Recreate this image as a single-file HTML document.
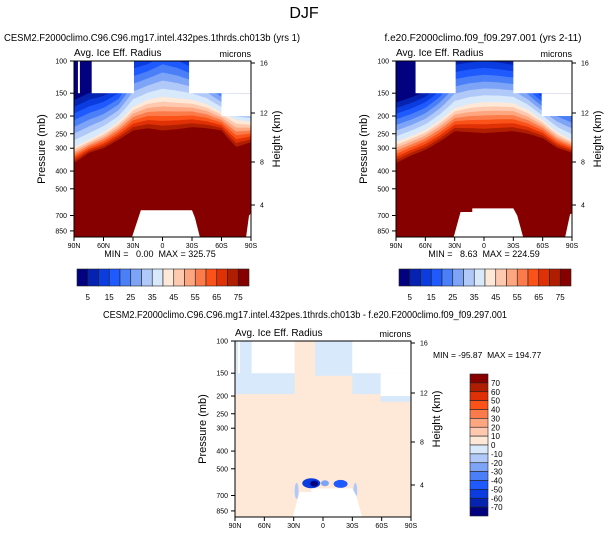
<!DOCTYPE html>
<html><head><meta charset="utf-8"><style>
body{margin:0;background:#fff;}
svg{display:block;font-family:"Liberation Sans",sans-serif;}
</style></head><body>
<svg id="chart" width="609" height="538" viewBox="0 0 609 538" xmlns="http://www.w3.org/2000/svg">
<text x="304" y="18" font-size="16" text-anchor="middle">DJF</text>
<text x="152" y="41" font-size="10" text-anchor="middle" textLength="296" lengthAdjust="spacingAndGlyphs">CESM2.F2000climo.C96.C96.mg17.intel.432pes.1thrds.ch013b (yrs 1)</text>
<text x="483" y="41" font-size="10" text-anchor="middle" textLength="197" lengthAdjust="spacingAndGlyphs">f.e20.F2000climo.f09_f09.297.001 (yrs 2-11)</text>
<text x="305" y="318" font-size="10" text-anchor="middle" textLength="404" lengthAdjust="spacingAndGlyphs">CESM2.F2000climo.C96.C96.mg17.intel.432pes.1thrds.ch013b - f.e20.F2000climo.f09_f09.297.001</text>
<g id="p1"></g>
<g id="p2"></g>
<g id="p3"></g>
<g id="cb"></g>
</svg>
<script>
// ---- data ----
const lats = [90,75,60,45,30,15,0,-15,-30,-45,-60,-75,-90];
// pressure (mb) where field crosses 75, 40 and 10 microns
const p75a = [361,318,300,270,240,233,240,236,230,233,240,295,278];
const p40a = [295,270,245,215,178,163,157,160,163,172,190,210,215];
const p10a = [178,163,155,140,100,95,85,90,100,110,130,160,165];
const p75b = [361,330,306,275,242,245,248,245,242,250,264,299,318];
const p40b = [277,258,238,210,181,172,168,168,170,185,210,245,270];
const p10b = [181,170,157,135,105,102,100,102,105,125,150,165,175];
const levels = [5,10,15,20,25,30,35,40,45,50,55,60,65,70,75];
const diffLevels = [-70,-60,-50,-40,-30,-20,-10,0,10,20,30,40,50,60,70];
const pTicks = [100,150,200,250,300,400,500,700,850];
const hTicks = [16,12,8,4];
const xTickLabels = ['90N','60N','30N','0','30S','60S','90S'];
const xTickLats = [90,60,30,0,-30,-60,-90];
const colors = ['#020280','#0522b0','#0a3ce0','#1e5aff','#4a7ff8','#7ea4f7','#b0c9f8','#d8e9fc','#fee9d8','#fec9af','#fda67f','#fb7b4a','#fb521a','#e03005','#b01e00','#870000'];
// missing (white) regions: [latLeft, latRight, pTop, pBottom]
const miss1 = [[86,84,100,150],[72,29,100,150],[-27,-90,100,150],[-60,-90,150,200]];
const miss2 = [[70,29,100,150],[-30,-90,100,150],[-59,-90,150,200]];
const miss3 = [[87,85,100,150],[73,29,100,150],[-30,-90,100,150],[-59,-90,150,200]];
// mountain (white) outline [lat, p]
const mount1 = [[31,1000],[22,655],[-30,655],[-33,720],[-38,1000]];
const mount2 = [[31,1000],[24,670],[12,670],[12,640],[-30,640],[-34,700],[-40,1000]];
const poleGap1 = [[-85,1000],[-88,700],[-90,680],[-90,1000]];
const poleGap2 = [[-83,1000],[-88,690],[-90,680],[-90,1000]];
// diff: light-blue regions [latL, latR, pTop, pBot]
const diffBlue = [[90,29,100,195],[8,-30,100,155],[-30,-59,150,195],[-59,-90,200,215]];
const diffBlobs = [[12,600,9,5,'#0a3ce0'],[9,603,4,3,'#020280'],[-18,605,7,4,'#1e5aff'],[-2,600,4,3,'#7ea4f7'],[27,660,2,8,'#b0c9f8'],[-33,660,2,8,'#b0c9f8']];
const stats = ['MIN =   0.00  MAX = 325.75','MIN =   8.63  MAX = 224.59','MIN = -95.87  MAX = 194.77'];

const NS='http://www.w3.org/2000/svg';
const K=79.4;
function mk(p,tag,a){const e=document.createElementNS(NS,tag);for(const k in a)e.setAttribute(k,a[k]);p.appendChild(e);return e;}

function panel(x0,y0,w,h){
  const X=lat=>x0+(90-lat)/180*w;
  const Y=p=>Math.min(y0+h,Math.max(y0,y0+Math.log(p/100)*K));
  return {X,Y};
}
function interp(arr,lat){
  const i=Math.min(11,Math.floor((90-lat)/15));const t=((90-lat)-i*15)/15;
  return arr[i]*(1-t)+arr[i+1]*t;
}
function pAt(lv,l10,l40,l75){
  if(lv<=40) return Math.exp(l10+(lv-10)/30*(l40-l10));
  return Math.exp(l40+(lv-40)/35*(l75-l40));
}
function field(g,ax,p75,p40,p10,miss,mount,gap,pre,x0,y0,w,h){
  const {X,Y}=ax;
  const r=mk(g,'rect',{x:x0,y:y0,width:w,height:h,fill:colors[0]});
  
  
  levels.forEach((lv,k)=>{
    let pts=[];
    for(let lat=90;lat>=-90;lat-=2.5){
      const p=pAt(lv,Math.log(interp(p10,lat)),Math.log(interp(p40,lat)),Math.log(interp(p75,lat)));
      pts.push(X(lat).toFixed(1)+','+Y(p).toFixed(1));
    }
    pts.push(X(-90)+','+(y0+h));pts.push(X(90)+','+(y0+h));
    const pg=mk(g,'polygon',{points:pts.join(' '),fill:colors[k+1]});
    
    
  });
  whites(g,ax,miss,mount,gap,pre);
}
function whites(g,ax,miss,mount,gap,pre){
  const {X,Y}=ax;
  miss.forEach(m=>{
    const e=mk(g,'rect',{x:X(m[0]),y:Y(m[2]),width:X(m[1])-X(m[0]),height:Y(m[3])-Y(m[2]),fill:'#fff'});
    
    
  });
  [mount,gap].forEach(poly=>{
    if(!poly)return;
    const e=mk(g,'polygon',{points:poly.map(q=>X(q[0])+','+Y(q[1])).join(' '),fill:'#fff'});
    
    
  });
}
function hOff(z){ // height (km) to pixel offset from top
  const zs=[16,12,8,4], off=[2,52,101,144];
  for(let i=0;i<3;i++){ if(z<=zs[i]&&z>=zs[i+1]){const t=(zs[i]-z)/4;return off[i]+t*(off[i+1]-off[i]);} }
  return 0;
}
function axes(g,ax,x0,y0,w,h,pre){
  const {X,Y}=ax;
  const f=mk(g,'rect',{x:x0,y:y0,width:w,height:h,fill:'none',stroke:'#000','stroke-width':1});
  
  
  pTicks.forEach(p=>{
    mk(g,'line',{x1:x0-4,x2:x0,y1:Y(p),y2:Y(p),stroke:'#000','stroke-width':1});
    const t=mk(g,'text',{x:x0-7,y:Y(p)+2.5,'font-size':7,'text-anchor':'end'});t.textContent=p;
    
    
  });
  hTicks.forEach(hk=>{
    const yy=y0+hOff(hk);
    mk(g,'line',{x1:x0+w,x2:x0+w+4,y1:yy,y2:yy,stroke:'#000','stroke-width':1});
    const t=mk(g,'text',{x:x0+w+9,y:yy+2.5,'font-size':7});t.textContent=hk;
    
    
  });
  xTickLats.forEach((lat,i)=>{
    mk(g,'line',{x1:X(lat),x2:X(lat),y1:y0+h,y2:y0+h+4,stroke:'#000','stroke-width':1});
    const t=mk(g,'text',{x:X(lat),y:y0+h+11,'font-size':7,'text-anchor':'middle'});t.textContent=xTickLabels[i];
    
    
  });
  let t=mk(g,'text',{x:x0,y:y0-5,'font-size':10});t.textContent='Avg. Ice Eff. Radius';
  
  
  t=mk(g,'text',{x:x0+w,y:y0-4,'font-size':9,'text-anchor':'end'});t.textContent='microns';
  
  
  t=mk(g,'text',{x:0,y:0,'font-size':11,'text-anchor':'middle',transform:`translate(${x0-29},${y0+h/2}) rotate(-90)`});t.textContent='Pressure (mb)';
  
  
  t=mk(g,'text',{x:0,y:0,'font-size':11,'text-anchor':'middle',transform:`translate(${x0+w+29},${y0+h/2-10}) rotate(-90)`});t.textContent='Height (km)';
  
  
}

const g1=document.getElementById('p1'),g2=document.getElementById('p2'),g3=document.getElementById('p3');
const a1=panel(74,61,177,176);field(g1,a1,p75a,p40a,p10a,miss1,mount1,poleGap1,'p1',74,61,177,176);axes(g1,a1,74,61,177,176,'p1');
const a2=panel(396,61,176,176);field(g2,a2,p75b,p40b,p10b,miss2,mount2,poleGap2,'p2',396,61,176,176);axes(g2,a2,396,61,176,176,'p2');
// diff panel
const a3=panel(235,341,176,176);
{
  const {X,Y}=a3;
  const bg=mk(g3,'rect',{x:235,y:341,width:176,height:176,fill:colors[8]});
  
  
  diffBlue.forEach(d=>{
    const e=mk(g3,'rect',{x:X(d[0]),y:Y(d[2]),width:X(d[1])-X(d[0]),height:Y(d[3])-Y(d[2]),fill:colors[7]});
    
    
  });
  diffBlobs.forEach(b=>{
    const e=mk(g3,'ellipse',{cx:X(b[0]),cy:Y(b[1]),rx:b[2],ry:b[3],fill:b[4]});
    
    
  });
  whites(g3,a3,miss3,mount2,null,'p3');
  axes(g3,a3,235,341,176,176,'p3');
}
// stats
[[160,257],[484,257]].forEach((p,i)=>{
  const t=mk(document.getElementById('chart'),'text',{x:p[0],y:p[1],'font-size':9,'text-anchor':'middle'});
  t.textContent=stats[i];t.style.whiteSpace='pre';
  
  
});
{
  const t=mk(document.getElementById('chart'),'text',{x:433,y:358,'font-size':8.5});
  t.textContent=stats[2];t.style.whiteSpace='pre';
  
  
}
// colorbars
const cb=document.getElementById('cb');
[77,399].forEach((cx)=>{
  const bw=172/16;
  colors.forEach((c,i)=>{
    const r=mk(cb,'rect',{x:cx+i*bw,y:269,width:bw,height:17,fill:c,stroke:'#222','stroke-width':0.6});
    
    
  });
  levels.forEach((lv,i)=>{
    if(i%2)return;
    const t=mk(cb,'text',{x:cx+(i+1)*bw,y:300,'font-size':8,'text-anchor':'middle'});t.textContent=lv;
    
    
  });
});
{
  const bh=142/16;
  colors.slice().reverse().forEach((c,i)=>{
    const r=mk(cb,'rect',{x:470,y:374+i*bh,width:18,height:bh,fill:c,stroke:'#222','stroke-width':0.6});
    
    
  });
  diffLevels.slice().reverse().forEach((lv,i)=>{
    const t=mk(cb,'text',{x:491,y:374+(i+1)*bh+3,'font-size':8});t.textContent=lv;
    
    
  });
}
</script>
</body></html>
